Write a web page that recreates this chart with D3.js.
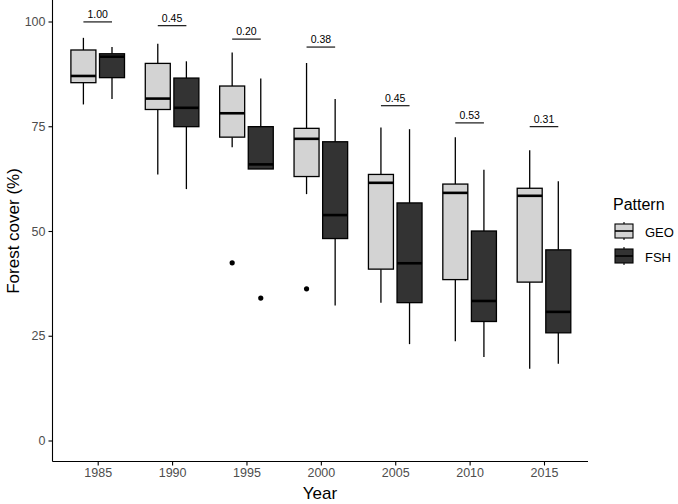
<!DOCTYPE html>
<html lang="en">
  <head>
    <meta charset="UTF-8" />
    <title>Forest cover</title>
    <script src="https://d3js.org/d3.v7.min.js"></script>
    <style>
      body {
        margin: 0;
        background-color: #fff;
        font-family: "Liberation Sans", Arial, sans-serif;
      }
      .axis text {
        fill: #4d4d4d;
        font-size: 12.5px;
        font-family: "Liberation Sans", Arial, sans-serif;
      }
      .axis path,
      .axis line {
        stroke: #000;
        stroke-width: 1.1;
      }
    </style>
  </head>
  <body>
    <div id="chart"></div>
    <script>
      const years = ["1985", "1990", "1995", "2000", "2005", "2010", "2015"];
      const patterns = ["GEO", "FSH"];
      // [min, q1, median, q3, max] per year
      const geoStats = [
        [80.2, 85.4, 87.0, 93.2, 96.1],
        [63.5, 79.0, 81.6, 90.0, 94.7],
        [70.0, 72.4, 78.1, 84.6, 92.6],
        [58.8, 63.0, 72.0, 74.5, 90.1],
        [32.9, 40.9, 61.5, 63.5, 74.7],
        [23.7, 38.4, 59.1, 61.2, 72.4],
        [17.1, 37.8, 58.4, 60.2, 69.3],
      ];
      const fshStats = [
        [81.5, 86.6, 91.6, 92.3, 93.9],
        [60.0, 74.9, 79.4, 86.5, 90.5],
        [64.8, 64.8, 65.9, 74.9, 86.4],
        [32.2, 48.2, 53.8, 71.3, 81.5],
        [23.0, 32.9, 42.3, 56.7, 74.3],
        [19.9, 28.4, 33.3, 50.0, 64.6],
        [18.3, 25.7, 30.7, 45.5, 61.9],
      ];
      const outliers = [
        { year: "1995", pattern: "GEO", value: 42.4 },
        { year: "1995", pattern: "FSH", value: 34.0 },
        { year: "2000", pattern: "GEO", value: 36.2 },
      ];
      const pValues = ["1.00", "0.45", "0.20", "0.38", "0.45", "0.53", "0.31"];
      const pLineY = [99.9, 99.0, 95.8, 93.9, 79.9, 75.8, 74.9];
      const fills = { GEO: "#d3d3d3", FSH: "#333333" };

      const width = 678;
      const height = 504;

      const svg = d3
        .select("#chart")
        .append("svg")
        .attr("width", width)
        .attr("height", height);

      const x = d3.scalePoint().domain(years).range([97.7, 544]);
      const dodge = d3.scaleOrdinal().domain(patterns).range([-14.3, 14.3]);
      const y = d3.scaleLinear().domain([0, 100]).range([440.5, 21.5]);
      const boxW = 25;

      // axes
      svg
        .append("g")
        .attr("class", "axis")
        .attr("transform", "translate(0,461.5)")
        .call(d3.axisBottom(x).tickSize(4).tickPadding(3))
        .call((g) => g.select(".domain").attr("d", "M52.5,0H588"));

      svg
        .append("g")
        .attr("class", "axis")
        .attr("transform", "translate(52.5,0)")
        .call(d3.axisLeft(y).tickValues([0, 25, 50, 75, 100]).tickSize(4).tickPadding(3))
        .call((g) => g.select(".domain").attr("d", "M0,0V461.5"));

      // boxes
      const boxes = [];
      years.forEach((yr, i) => {
        boxes.push({ year: yr, pattern: "GEO", s: geoStats[i] });
        boxes.push({ year: yr, pattern: "FSH", s: fshStats[i] });
      });

      const bg = svg
        .selectAll(".box")
        .data(boxes)
        .enter()
        .append("g")
        .attr("class", "box")
        .attr("transform", (d) => `translate(${x(d.year) + dodge(d.pattern)},0)`);

      bg.append("line")
        .attr("y1", (d) => y(d.s[4]))
        .attr("y2", (d) => y(d.s[3]))
        .attr("stroke", "#000")
        .attr("stroke-width", 1.3);
      bg.append("line")
        .attr("y1", (d) => y(d.s[1]))
        .attr("y2", (d) => y(d.s[0]))
        .attr("stroke", "#000")
        .attr("stroke-width", 1.3);
      bg.append("rect")
        .attr("x", -boxW / 2)
        .attr("width", boxW)
        .attr("y", (d) => y(d.s[3]))
        .attr("height", (d) => y(d.s[1]) - y(d.s[3]))
        .attr("fill", (d) => fills[d.pattern])
        .attr("stroke", "#000")
        .attr("stroke-width", 1.3);
      bg.append("line")
        .attr("x1", -boxW / 2)
        .attr("x2", boxW / 2)
        .attr("y1", (d) => y(d.s[2]))
        .attr("y2", (d) => y(d.s[2]))
        .attr("stroke", "#000")
        .attr("stroke-width", 2.6);

      svg
        .selectAll(".outlier")
        .data(outliers)
        .enter()
        .append("circle")
        .attr("cx", (d) => x(d.year) + dodge(d.pattern))
        .attr("cy", (d) => y(d.value))
        .attr("r", 2.6)
        .attr("fill", "#000");

      // p-value annotations
      const ann = svg
        .selectAll(".ann")
        .data(years)
        .enter()
        .append("g")
        .attr("class", "ann");
      ann
        .append("line")
        .attr("x1", (d) => x(d) + dodge("GEO"))
        .attr("x2", (d) => x(d) + dodge("FSH"))
        .attr("y1", (d, i) => y(pLineY[i]))
        .attr("y2", (d, i) => y(pLineY[i]))
        .attr("stroke", "#000")
        .attr("stroke-width", 1.1);
      ann
        .append("text")
        .attr("x", (d) => x(d))
        .attr("y", (d, i) => y(pLineY[i]) - 4)
        .attr("text-anchor", "middle")
        .attr("font-size", "10.5px")
        .attr("fill", "#000")
        .text((d, i) => pValues[i]);

      // axis titles
      svg
        .append("text")
        .attr("x", 320)
        .attr("y", 499)
        .attr("text-anchor", "middle")
        .attr("font-size", "17px")
        .attr("fill", "#000")
        .text("Year");
      svg
        .append("text")
        .attr("transform", "translate(19,231) rotate(-90)")
        .attr("text-anchor", "middle")
        .attr("font-size", "17px")
        .attr("fill", "#000")
        .text("Forest cover (%)");

      // legend
      const legend = svg.append("g").attr("transform", "translate(613,0)");
      legend
        .append("text")
        .attr("x", 0)
        .attr("y", 210)
        .attr("font-size", "16px")
        .attr("fill", "#000")
        .text("Pattern");
      const keys = legend
        .selectAll(".key")
        .data(patterns)
        .enter()
        .append("g")
        .attr("class", "key")
        .attr("transform", (d, i) => `translate(0,${222 + i * 25})`);
      keys
        .append("line")
        .attr("x1", 11)
        .attr("x2", 11)
        .attr("y1", 0)
        .attr("y2", 18)
        .attr("stroke", "#000")
        .attr("stroke-width", 1.1);
      keys
        .append("rect")
        .attr("x", 2)
        .attr("y", 2)
        .attr("width", 18)
        .attr("height", 14)
        .attr("fill", (d) => fills[d])
        .attr("stroke", "#000")
        .attr("stroke-width", 1.1);
      keys
        .append("line")
        .attr("x1", 2)
        .attr("x2", 20)
        .attr("y1", 9)
        .attr("y2", 9)
        .attr("stroke", "#000")
        .attr("stroke-width", 1.6);
      keys
        .append("text")
        .attr("x", 32)
        .attr("y", 14.5)
        .attr("font-size", "13px")
        .attr("fill", "#000")
        .text((d) => d);
    </script>
  </body>
</html>
